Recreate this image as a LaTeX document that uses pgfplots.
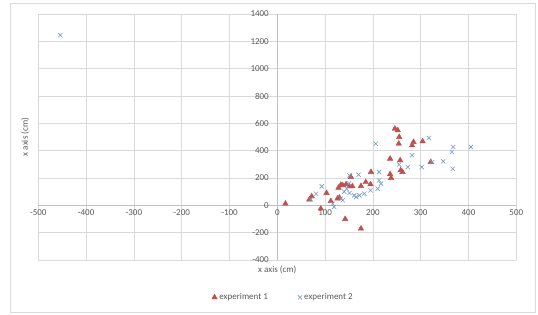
\documentclass[border=0pt]{standalone}
\usepackage{pgfplots}
\pgfplotsset{compat=1.18}
\usepackage{fontspec}
\setmainfont{Carlito}
\definecolor{gridc}{HTML}{D9D9D9}
\definecolor{axc}{HTML}{BFBFBF}
\definecolor{tickc}{HTML}{595959}
\definecolor{redm}{HTML}{C0504D}
\definecolor{bluem}{HTML}{4F81BD}
\begin{document}
\begin{tikzpicture}
\begin{axis}[
  scale only axis, width=478pt, height=246pt,
  xmin=-500, xmax=500, ymin=-400, ymax=1400,
  axis lines=middle,
  axis line style={axc, -},
  hide obscured x ticks=false, hide obscured y ticks=false,
  xtick={-500,-400,...,500}, ytick={-400,-200,...,1400},
  major tick length=0pt,
  grid=major, major grid style={gridc, line width=0.6pt},
  tick label style={font=\fontsize{9}{10}\selectfont, text=tickc},
  /pgf/number format/assume math mode=true,
  /pgf/number format/set thousands separator={},
  xticklabel style={anchor=north, yshift=-1pt},
  yticklabel style={anchor=east, xshift=-5pt},
  xlabel={x axis (cm)}, ylabel={x axis (cm)},
  label style={font=\fontsize{9}{10}\selectfont, text=tickc},
  xlabel style={at={(axis description cs:0.5,0)}, anchor=north, yshift=-2pt},
  ylabel style={at={(axis description cs:-0.012,0.5)}, anchor=south, rotate=90},
  legend columns=2,
  legend style={draw=none, fill=none, at={(axis description cs:0.5125,-0.152)}, anchor=center,
    font=\fontsize{9}{10}\selectfont, text=tickc, /tikz/every even column/.append style={column sep=28pt}},
  legend cell align=left,
  clip=false,
]
\addplot[only marks, mark=triangle*, mark size=3.2pt, color=redm] coordinates {
(17,12) (67,42) (72,66) (91,-24) (103,90) (112,31) (126,49) (130,56) (128,129) (133,150)
(137,146) (144,154) (151,139) (142,-100) (154,207) (157,140) (175,141) (175,-170)
(185,170) (195,154) (196,244) (236,228) (238,200) (236,341) (246,561) (252,549)
(255,500) (254,451) (257,329) (258,256) (262,244) (282,439) (285,463) (304,468) (321,317)
};
\addlegendentry{experiment 1}
\addplot[only marks, mark=x, mark size=3pt, line width=0.6pt, color=bluem!80] coordinates {
(-454,1245) (70,44) (81,85) (93,139) (119,-12) (116,12) (133,49) (137,37) (140,100)
(151,90) (161,73) (165,61) (172,73) (182,85) (151,219) (170,224) (206,451) (213,244)
(213,183) (217,159) (210,122) (255,298) (273,280) (282,366) (302,280) (317,493)
(324,317) (347,322) (365,390) (368,427) (367,268) (405,427) (145,120) (150,160) (195,110)
};
\addlegendentry{experiment 2}
\end{axis}
\draw[gridc, line width=0.7pt] ([shift={(-28pt,-52pt)}]current axis.south west) rectangle ++(525pt,309pt);
\path[use as bounding box] ([shift={(-38.3pt,-54pt)}]current axis.south west) rectangle ++(538pt,314pt);
\end{tikzpicture}
\end{document}
